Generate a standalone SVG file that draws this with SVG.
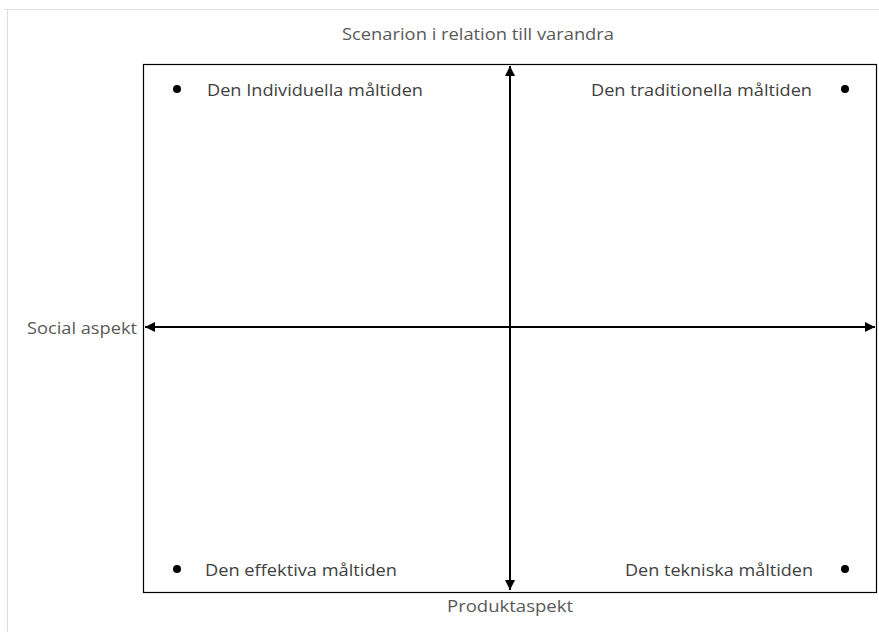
<svg xmlns="http://www.w3.org/2000/svg" width="879" height="632" viewBox="0 0 879 632">
<style>
.lbl{font-family:"Open Sans","Liberation Sans",sans-serif;font-size:16px;fill:#404040}
.ax{font-family:"Open Sans","Liberation Sans",sans-serif;font-size:16px;fill:#595959}
.axis{stroke:#000;stroke-width:2;fill:none}
.dot{fill:#000}
</style>
<defs>
<marker id="ah" viewBox="0 0 10 10" refX="10" refY="5" markerWidth="5" markerHeight="5" orient="auto-start-reverse" markerUnits="strokeWidth">
<path d="M0,0 L10,5 L0,10 Z" fill="#000"/>
</marker>
</defs>
<rect x="0" y="0" width="879" height="632" fill="#fff"/>
<path d="M5,9.5 H879 M7.5,9 V632" stroke="#dcdcdc" stroke-width="1" fill="none"/>
<text class="ax" x="478" y="40" text-anchor="middle" textLength="272" lengthAdjust="spacingAndGlyphs">Scenarion i relation till varandra</text>
<rect x="143.5" y="64.5" width="733" height="528" fill="none" stroke="#000" stroke-width="1.2"/>
<g id="connectors">
<line class="axis" x1="510" y1="590" x2="510" y2="66" marker-start="url(#ah)" marker-end="url(#ah)"/>
<line class="axis" x1="145" y1="327" x2="875" y2="327" marker-start="url(#ah)" marker-end="url(#ah)"/>
</g>
<g id="n1"><circle class="dot" cx="177" cy="89" r="4"/><text class="lbl" x="207" y="96" textLength="216" lengthAdjust="spacingAndGlyphs">Den Individuella måltiden</text></g>
<g id="n2"><circle class="dot" cx="845" cy="89" r="4"/><text class="lbl" x="812" y="96" text-anchor="end" textLength="221" lengthAdjust="spacingAndGlyphs">Den traditionella måltiden</text></g>
<g id="n3"><circle class="dot" cx="177" cy="569" r="4"/><text class="lbl" x="205" y="576" textLength="192" lengthAdjust="spacingAndGlyphs">Den effektiva måltiden</text></g>
<g id="n4"><circle class="dot" cx="845" cy="569" r="4"/><text class="lbl" x="813" y="576" text-anchor="end" textLength="188" lengthAdjust="spacingAndGlyphs">Den tekniska måltiden</text></g>
<g id="social"><text class="ax" x="137" y="334" text-anchor="end" textLength="110" lengthAdjust="spacingAndGlyphs">Social aspekt</text></g>
<g id="produkt"><text class="ax" x="510" y="612" text-anchor="middle" textLength="126" lengthAdjust="spacingAndGlyphs">Produktaspekt</text></g>
</svg>
